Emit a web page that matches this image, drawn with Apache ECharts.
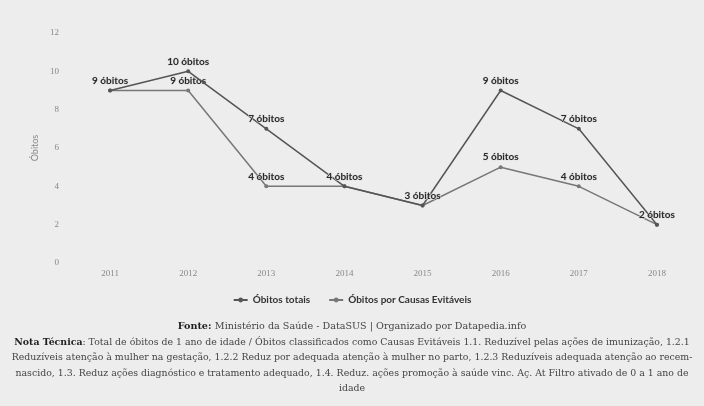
<!DOCTYPE html>
<html><head><meta charset="utf-8">
<script src="https://cdn.jsdelivr.net/npm/echarts@6/dist/echarts.min.js"></script>
<style>html,body{margin:0;padding:0;background:#ededed}#c{width:704px;height:406px}</style>
</head><body><div id="c"></div>
<script>
const years = ['2011','2012','2013','2014','2015','2016','2017','2018'];
const obitosTotais = [9,10,7,4,3,9,7,2];
const obitosEvitaveis = [9,9,4,4,3,5,4,2];
const seriesNames = ['Óbitos totais','Óbitos por Causas Evitáveis'];
const fonteText = 'Ministério da Saúde - DataSUS | Organizado por Datapedia.info';
const notaLines = [
  ': Total de óbitos de 1 ano de idade / Óbitos classificados como Causas Evitáveis 1.1. Reduzível pelas ações de imunização, 1.2.1',
  'Reduzíveis atenção à mulher na gestação, 1.2.2 Reduz por adequada atenção à mulher no parto, 1.2.3 Reduzíveis adequada atenção ao recem-',
  'nascido, 1.3. Reduz ações diagnóstico e tratamento adequado, 1.4. Reduz. ações promoção à saúde vinc. Aç. At Filtro ativado de 0 a 1 ano de',
  'idade'
];

const chart = echarts.init(document.getElementById('c'), null, {renderer:'canvas'});
const serif = 'DejaVu Serif, serif';
const richStyles = {
  b:{fontWeight:'bold', fontFamily:serif, fontSize:9.4, fill:'#1e1e1e'},
  n:{fontFamily:serif, fontSize:9.4, fill:'#444'}
};
const lbl = {show:true, position:'top', distance:3, formatter:p=>p.value+' óbitos', fontFamily:'Lato, sans-serif', fontWeight:'bold', fontSize:10, color:'#2a2a2a', textBorderColor:'#ddd', textBorderWidth:1};
const graphics = [
  {type:'text', left:'center', top:320, style:{rich:{b:{fontWeight:'bold', fontFamily:serif, fontSize:9.6, fill:'#1e1e1e'}, n:{fontFamily:serif, fontSize:9.6, fill:'#444'}}, text:'{b|Fonte:} {n|'+fonteText+'}'}}
];
notaLines.forEach((t,i)=>{
  graphics.push({type:'text', left:'center', top:338+i*15.3,
    style:{rich:richStyles, text:(i===0?'{b|Nota Técnica}':'')+'{n|'+t+'}'}});
});
chart.setOption({
  backgroundColor:'#ededed',
  animation:false,
  grid:{left:71, right:8, top:33, bottom:143},
  xAxis:{type:'category', data:years, axisLine:{show:false}, axisTick:{show:false},
    axisLabel:{color:'#888', fontFamily:'Liberation Serif, serif', fontSize:9, margin:6}},
  yAxis:{type:'value', min:0, max:12, interval:2, name:'Óbitos', nameLocation:'middle', nameGap:22,
    nameTextStyle:{color:'#888', fontFamily:'Lato, sans-serif', fontSize:9},
    splitLine:{show:false}, axisLine:{show:false}, axisTick:{show:false},
    axisLabel:{color:'#888', fontFamily:'Liberation Serif, serif', fontSize:9, margin:12}},
  legend:{top:290, left:'center', itemWidth:14, itemHeight:6, itemGap:18,
    textStyle:{fontFamily:'Lato, sans-serif', fontWeight:'bold', fontSize:10, color:'#333'}},
  graphic:graphics,
  series:[
    {name:seriesNames[0], type:'line', data:obitosTotais, symbol:'circle', symbolSize:4,
      lineStyle:{color:'#555', width:1.5}, itemStyle:{color:'#555'}, label:lbl, labelLayout:{hideOverlap:true}, z:3},
    {name:seriesNames[1], type:'line', data:obitosEvitaveis, symbol:'circle', symbolSize:4,
      lineStyle:{color:'#777', width:1.5}, itemStyle:{color:'#777'}, label:lbl, labelLayout:{hideOverlap:true}, z:2}
  ]
});
</script></body></html>
